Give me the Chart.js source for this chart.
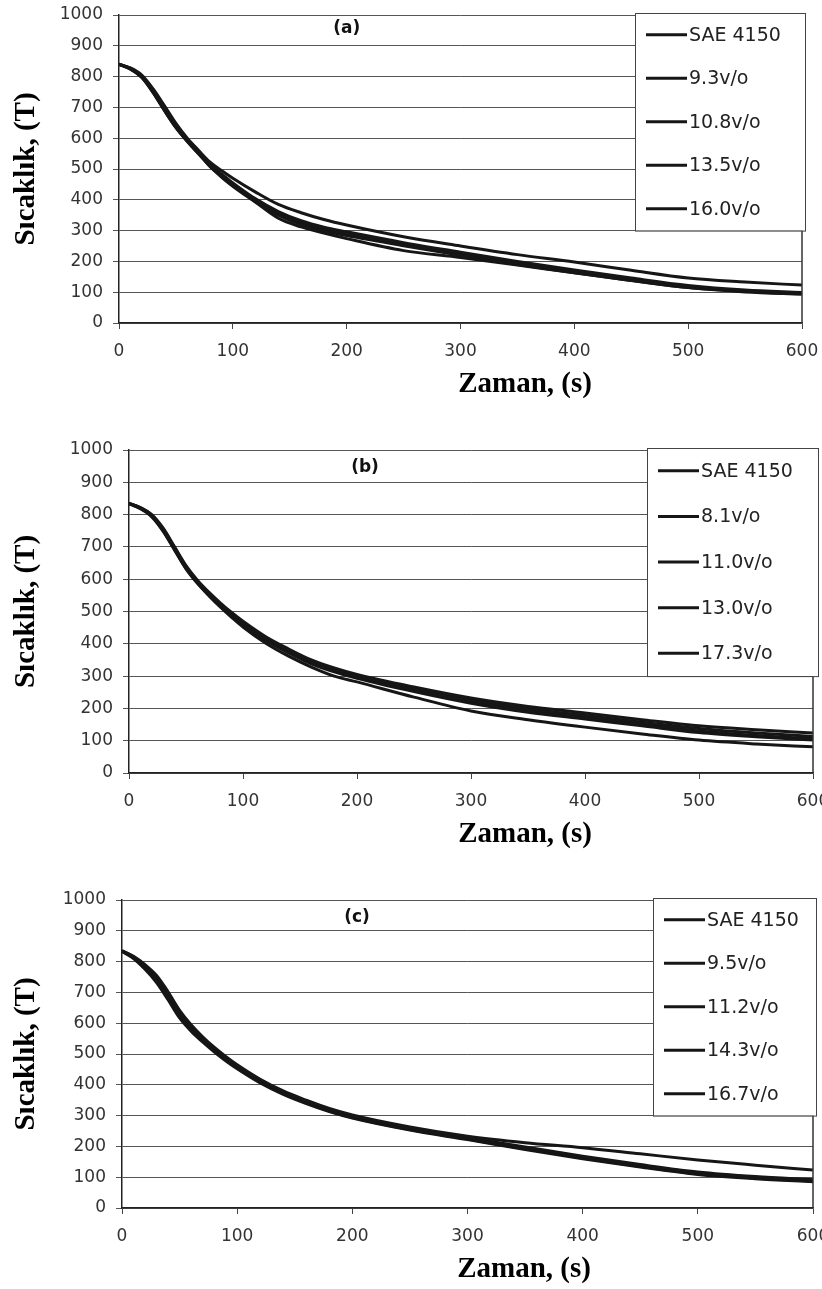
<!DOCTYPE html>
<html>
<head>
<meta charset="utf-8">
<title>Sıcaklık - Zaman</title>
<script src="https://cdn.jsdelivr.net/npm/chart.js@4.4.1/dist/chart.umd.min.js"></script>
<style>
	html, body { margin: 0; padding: 0; background: #fff; }
	#wrap { position: relative; width: 822px; height: 1289px; overflow: hidden; }
	#wrap canvas { position: absolute; left: 0; }
</style>
</head>
<body>
<div id="wrap">
	<canvas id="chartA" width="822" height="420" style="top:0px"></canvas>
	<canvas id="chartB" width="822" height="440" style="top:420px"></canvas>
	<canvas id="chartC" width="822" height="429" style="top:860px"></canvas>
</div>
<script>
// zaman (s) - all three panels use the same sampling
var times = [0, 10, 20, 30, 40, 50, 60, 70, 80, 90, 100, 120, 140, 160, 180, 200, 250, 300, 350, 400, 450, 500, 550, 600];
var xTicks = [0, 100, 200, 300, 400, 500, 600];
var yTicks = [0, 100, 200, 300, 400, 500, 600, 700, 800, 900, 1000];

// (a)
var labelsA = ['SAE 4150', '9.3v/o', '10.8v/o', '13.5v/o', '16.0v/o'];
var a1 = [840, 828, 805, 760, 705, 648, 600, 560, 522, 495, 470, 425, 385, 358, 336, 318, 280, 250, 222, 198, 171, 146, 133, 123];
var a2 = [840, 827, 802, 755, 698, 643, 597, 557, 516, 484, 455, 403, 362, 332, 311, 296, 261, 230, 200, 172, 146, 122, 107, 99];
var a3 = [840, 826, 800, 751, 693, 638, 593, 553, 512, 480, 450, 398, 356, 326, 305, 290, 256, 225, 195, 167, 142, 118, 104, 96];
var a4 = [840, 825, 798, 748, 689, 634, 589, 549, 508, 476, 446, 394, 350, 320, 299, 284, 251, 220, 190, 163, 138, 115, 101, 94];
var a5 = [840, 824, 797, 748, 690, 635, 590, 550, 508, 474, 444, 392, 340, 312, 292, 274, 235, 213, 188, 163, 138, 115, 103, 94];

// (b)
var labelsB = ['SAE 4150', '8.1v/o', '11.0v/o', '13.0v/o', '17.3v/o'];
var b1 = [835, 822, 800, 758, 700, 642, 597, 560, 527, 497, 470, 422, 384, 350, 325, 305, 266, 232, 206, 186, 165, 146, 134, 124];
var b2 = [835, 821, 798, 755, 697, 639, 594, 557, 524, 494, 466, 418, 380, 346, 321, 301, 261, 226, 199, 178, 157, 138, 124, 113];
var b3 = [835, 820, 796, 752, 694, 636, 591, 554, 521, 491, 462, 414, 376, 342, 317, 297, 256, 221, 193, 172, 151, 130, 116, 106];
var b4 = [835, 819, 795, 750, 692, 634, 589, 552, 518, 488, 459, 410, 372, 338, 313, 293, 252, 216, 188, 167, 146, 125, 112, 102];
var b5 = [833, 818, 793, 748, 690, 632, 587, 549, 514, 482, 452, 402, 362, 328, 300, 282, 235, 192, 165, 142, 121, 102, 90, 81];

// (c)
var labelsC = ['SAE 4150', '9.5v/o', '11.2v/o', '14.3v/o', '16.7v/o'];
var c1 = [835, 817, 790, 755, 702, 642, 595, 556, 522, 492, 465, 418, 380, 350, 323, 302, 263, 233, 212, 196, 176, 156, 139, 123];
var c2 = [835, 816, 787, 750, 696, 636, 590, 552, 518, 488, 461, 415, 377, 347, 320, 299, 260, 229, 198, 168, 141, 117, 102, 92];
var c3 = [835, 814, 783, 745, 690, 630, 585, 548, 515, 485, 458, 412, 375, 345, 318, 297, 258, 227, 195, 165, 138, 114, 100, 90];
var c4 = [834, 812, 779, 738, 682, 623, 579, 543, 511, 481, 455, 409, 372, 342, 315, 294, 255, 224, 192, 162, 135, 111, 97, 87];
var c5 = [833, 810, 775, 732, 676, 617, 574, 539, 507, 478, 452, 406, 369, 339, 313, 292, 253, 222, 190, 160, 133, 109, 95, 85];

var lineColor = '#161616';
var tickFont = { family: 'DejaVu Sans', size: 17 };

// legend box, panel letter, right frame line and x title
var panelDecor = {
	id: 'panelDecor',
	afterDraw: function (chart, args, o) {
		var ctx = chart.ctx;
		var area = chart.chartArea;
		var xs = chart.scales.x;
		var ys = chart.scales.y;
		ctx.save();

		// right frame
		ctx.strokeStyle = '#333';
		ctx.lineWidth = 1.5;
		ctx.beginPath();
		ctx.moveTo(area.right, area.top);
		ctx.lineTo(area.right, area.bottom);
		ctx.stroke();

		// (a) (b) (c)
		ctx.fillStyle = '#111';
		ctx.font = 'bold 17px "DejaVu Sans"';
		ctx.textAlign = 'center';
		ctx.textBaseline = 'middle';
		ctx.fillText(o.tag, xs.getPixelForValue(o.tagAt[0]), ys.getPixelForValue(o.tagAt[1]));

		// legend
		var top = area.top - 2;
		var bottom = ys.getPixelForValue(300);
		var left = o.legendLeft;
		var right = area.right + o.legendOver;
		ctx.fillStyle = '#fff';
		ctx.fillRect(left, top, right - left, bottom - top);
		ctx.strokeStyle = '#444';
		ctx.lineWidth = 1;
		ctx.strokeRect(left + 0.5, top + 0.5, right - left, bottom - top);
		var n = chart.data.datasets.length;
		var step = (bottom - top) / n;
		ctx.font = '19px "DejaVu Sans"';
		ctx.textAlign = 'left';
		chart.data.datasets.forEach(function (ds, i) {
			var y = top + step * (i + 0.5);
			ctx.strokeStyle = lineColor;
			ctx.lineWidth = 3;
			ctx.beginPath();
			ctx.moveTo(left + 11, y);
			ctx.lineTo(left + 52, y);
			ctx.stroke();
			ctx.fillStyle = '#222';
			ctx.fillText(ds.label, left + 54, y + 1);
		});

		// Zaman, (s)
		ctx.fillStyle = '#000';
		ctx.font = 'bold 29px "Liberation Serif"';
		ctx.textAlign = 'center';
		ctx.fillText('Zaman, (s)', o.titleX, area.bottom + 62);
		ctx.restore();
	}
};

function makeChart(id, labels, series, cfg) {
	var datasets = series.map(function (vals, i) {
		return {
			label: labels[i],
			data: vals.map(function (v, k) { return { x: times[k], y: v }; }),
			borderColor: lineColor,
			borderWidth: 3,
			pointRadius: 0,
			fill: false,
			cubicInterpolationMode: 'monotone'
		};
	});

	return new Chart(document.getElementById(id).getContext('2d'), {
		type: 'line',
		data: { datasets: datasets },
		options: {
			responsive: false,
			animation: false,
			layout: { padding: { top: cfg.padTop, right: cfg.padRight, left: 9, bottom: 0 } },
			plugins: {
				legend: { display: false },
				tooltip: { enabled: false },
				panelDecor: cfg.decor
			},
			scales: {
				x: {
					type: 'linear',
					min: 0,
					max: 600,
					afterBuildTicks: function (s) { s.ticks = xTicks.map(function (v) { return { value: v }; }); },
					afterFit: function (s) { s.height = cfg.xHeight; s.paddingLeft = 0; s.paddingRight = 0; },
					grid: { drawOnChartArea: false, tickLength: 6, color: '#444' },
					border: { color: '#222', width: 1.5 },
					ticks: { font: tickFont, color: '#333', padding: 12, maxRotation: 0,
						callback: function (v) { return String(v); } }
				},
				y: {
					min: 0,
					max: 1000,
					afterBuildTicks: function (s) { s.ticks = yTicks.map(function (v) { return { value: v }; }); },
					afterFit: function (s) { s.width = cfg.yWidth; s.paddingTop = 0; s.paddingBottom = 0; },
					grid: { color: '#555', lineWidth: 1, tickLength: 6 },
					border: { color: '#222', width: 1.5 },
					ticks: { font: tickFont, color: '#333', padding: 10,
						callback: function (v) { return String(v); } },
					title: {
						display: true,
						text: 'Sıcaklık, (T)',
						color: '#000',
						padding: 0,
						font: { family: 'Liberation Serif', size: 29, weight: 'bold' }
					}
				}
			}
		},
		plugins: [panelDecor]
	});
}

makeChart('chartA', labelsA, [a1, a2, a3, a4, a5], {
	padTop: 15, padRight: 20, yWidth: 110, xHeight: 97,
	decor: { tag: '(a)', tagAt: [200, 955], legendLeft: 635, legendOver: 3, titleX: 525 }
});
makeChart('chartB', labelsB, [b1, b2, b3, b4, b5], {
	padTop: 30, padRight: 9, yWidth: 120, xHeight: 87,
	decor: { tag: '(b)', tagAt: [207, 945], legendLeft: 647, legendOver: 5, titleX: 525 }
});
makeChart('chartC', labelsC, [c1, c2, c3, c4, c5], {
	padTop: 40, padRight: 9, yWidth: 113, xHeight: 81,
	decor: { tag: '(c)', tagAt: [204, 943], legendLeft: 653, legendOver: 3, titleX: 524 }
});
</script>
</body>
</html>
